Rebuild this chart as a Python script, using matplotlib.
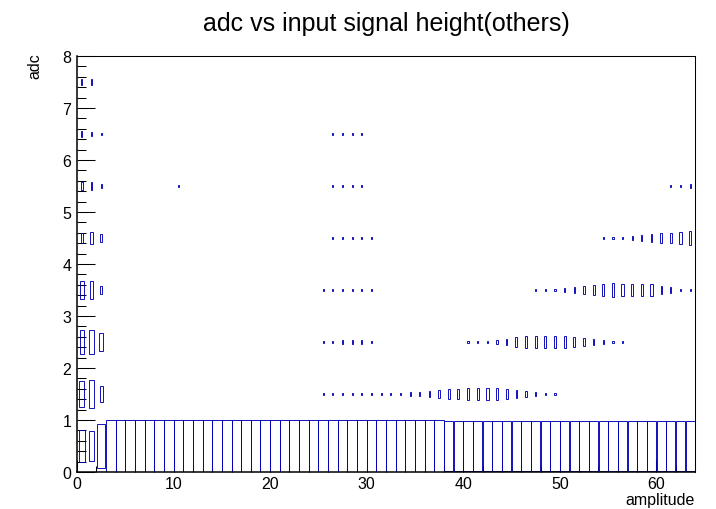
import numpy as np
import matplotlib
matplotlib.use("Agg")
import matplotlib.pyplot as plt
from matplotlib.ticker import MultipleLocator

plt.rcParams['font.family'] = ['Liberation Sans', 'DejaVu Sans']

# 2D histogram: amplitude bins 0..64 (width 1) vs adc bins 0..8 (width 1)
# each adc row: amplitude bin indices and their counts
adc0_bins = list(range(64))
adc0_counts = [1920, 1680, 3700, 5000, 5000, 5000, 5000, 5000, 5000, 5000,
               5000, 5000, 5000, 5000, 5000, 5000, 5000, 5000, 5000, 5000,
               5000, 5000, 5000, 5000, 5000, 5000, 5000, 5000, 5000, 5000,
               5000, 5000, 5000, 5000, 5000, 5000, 5000, 5000, 4610, 4610,
               4610, 4610, 4610, 4610, 4610, 4610, 4610, 4610, 4610, 4610,
               4610, 4610, 4610, 4610, 4610, 4610, 4610, 4610, 4610, 4610,
               4610, 4610, 4610, 4610]

adc1_bins = [0, 1, 2] + list(range(25, 50))
adc1_counts = [1300, 1510, 510,
               8, 8, 8, 8, 8, 8, 8, 8, 8, 21, 32, 66, 98, 162, 220, 242, 242,
               288, 242, 180, 128, 85, 32, 12, 8]

adc2_bins = [0, 1, 2] + list(range(25, 31)) + list(range(40, 57))
adc2_counts = [1100, 1150, 610,
               8, 8, 21, 21, 21, 8,
               8, 8, 12, 40, 85, 180, 265, 265, 288, 265, 265, 220, 112, 72,
               32, 12, 8]

adc3_bins = [0, 1, 2] + list(range(25, 31)) + list(range(47, 64))
adc3_counts = [610, 650, 112,
               8, 8, 8, 8, 8, 8,
               8, 8, 12, 36, 72, 145, 220, 265, 338, 265, 265, 242, 242, 98,
               50, 12, 8]

adc4_bins = [0, 1, 2] + list(range(26, 31)) + list(range(54, 64))
adc4_counts = [200, 242, 98,
               8, 8, 8, 8, 8,
               8, 8, 10, 28, 60, 128, 180, 220, 265, 338]

adc5_bins = [0, 1, 2, 10, 26, 27, 28, 29, 61, 62, 63]
adc5_counts = [98, 128, 21, 8, 8, 8, 8, 8, 8, 8, 21]

adc6_bins = [0, 1, 2, 26, 27, 28, 29]
adc6_counts = [60, 40, 12, 8, 8, 8, 8]

adc7_bins = [0, 1]
adc7_counts = [85, 60]

rows = [
    (0, adc0_bins, adc0_counts),
    (1, adc1_bins, adc1_counts),
    (2, adc2_bins, adc2_counts),
    (3, adc3_bins, adc3_counts),
    (4, adc4_bins, adc4_counts),
    (5, adc5_bins, adc5_counts),
    (6, adc6_bins, adc6_counts),
    (7, adc7_bins, adc7_counts),
]

box_color = '#0000b4'

fig = plt.figure(figsize=(7.16, 5.10), dpi=100)
ax = fig.add_axes([77 / 716, 37 / 510, 618 / 716, 416 / 510])

# "box" style: box side scales with sqrt(content / max) in both directions
zmax = max(max(c) for _, _, c in rows)
for adc, bins, counts in rows:
    counts = np.asarray(counts, dtype=float)
    amp = np.asarray(bins) + 0.5
    side = np.sqrt(counts / zmax)
    w = np.maximum(side, 0.12)
    h = np.maximum(side, 0.035)
    ax.bar(amp, h, width=w, bottom=adc + 0.5 - h / 2, fill=False,
           edgecolor=box_color, linewidth=0.65, zorder=2)

ax.set_xlim(0, 64)
ax.set_ylim(0, 8)
ax.xaxis.set_major_locator(MultipleLocator(10))
ax.xaxis.set_minor_locator(MultipleLocator(2))
ax.yaxis.set_major_locator(MultipleLocator(1))
ax.yaxis.set_minor_locator(MultipleLocator(0.2))

ax.tick_params(axis='y', which='major', direction='in', length=13.3, width=0.75,
               labelsize=11.5, pad=4)
ax.tick_params(axis='y', which='minor', direction='in', length=6.7, width=0.75)
ax.tick_params(axis='x', which='major', direction='in', length=9, width=0.75,
               labelsize=11.5, pad=3)
ax.tick_params(axis='x', which='minor', direction='in', length=4.5, width=0.75)

for side_name in ['left', 'bottom']:
    ax.spines[side_name].set_linewidth(1.1)
for side_name in ['top', 'right']:
    ax.spines[side_name].set_linewidth(0.75)

ax.set_title('adc vs input signal height(others)', fontsize=18, pad=19)
ax.set_xlabel('amplitude', fontsize=11.5, loc='right')
ax.xaxis.set_label_coords(1.0, -0.048)
ax.set_ylabel('adc', fontsize=11.5, loc='top')
ax.yaxis.set_label_coords(-0.056, 1.008)

fig.savefig('out.png', dpi=100)
